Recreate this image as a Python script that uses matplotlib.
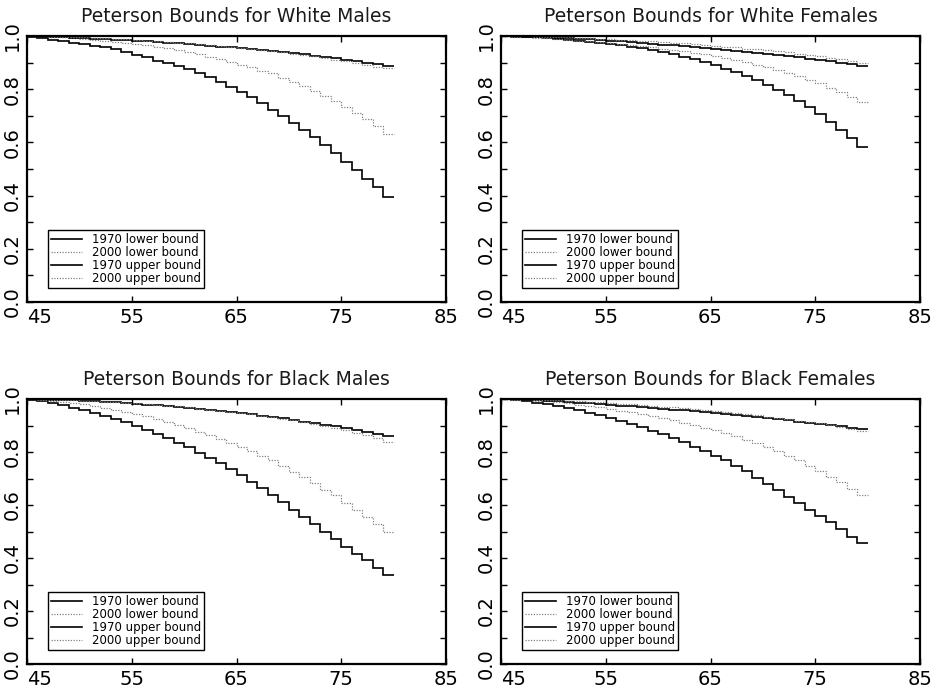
import matplotlib
matplotlib.use('Agg')
import matplotlib.pyplot as plt
from matplotlib.ticker import MultipleLocator
import numpy as np

# ages 45..80, survival bounds are step values for each one-year interval (45-46 ... 79-80)
age_edges = list(range(45, 81))

titles = ['Peterson Bounds for White Males', 'Peterson Bounds for White Females',
          'Peterson Bounds for Black Males', 'Peterson Bounds for Black Females']
labels = ['1970 lower bound', '2000 lower bound', '1970 upper bound', '2000 upper bound']

# white males
wm_low_1970 = [0.997, 0.991, 0.985, 0.980, 0.975, 0.969, 0.961, 0.957, 0.950, 0.940,
               0.930, 0.920, 0.907, 0.898, 0.887, 0.876, 0.862, 0.846, 0.827, 0.810,
               0.789, 0.769, 0.747, 0.722, 0.699, 0.674, 0.647, 0.619, 0.589, 0.559,
               0.528, 0.496, 0.464, 0.431, 0.396]
wm_low_2000 = [0.999, 0.998, 0.997, 0.995, 0.992, 0.990, 0.986, 0.982, 0.979, 0.975,
               0.970, 0.965, 0.960, 0.954, 0.947, 0.940, 0.932, 0.922, 0.912, 0.904,
               0.892, 0.882, 0.870, 0.860, 0.843, 0.828, 0.812, 0.794, 0.774, 0.757,
               0.734, 0.712, 0.687, 0.662, 0.632]
wm_up_1970 = [1.000, 0.998, 0.997, 0.995, 0.994, 0.992, 0.990, 0.988, 0.986, 0.984,
              0.982, 0.980, 0.977, 0.975, 0.972, 0.969, 0.966, 0.963, 0.960, 0.957,
              0.954, 0.950, 0.947, 0.943, 0.939, 0.935, 0.931, 0.926, 0.921, 0.916,
              0.911, 0.905, 0.899, 0.893, 0.887]
wm_up_2000 = [1.000, 0.999, 0.998, 0.997, 0.996, 0.995, 0.993, 0.991, 0.989, 0.987,
              0.985, 0.983, 0.980, 0.978, 0.975, 0.972, 0.969, 0.966, 0.962, 0.959,
              0.955, 0.951, 0.947, 0.943, 0.938, 0.933, 0.928, 0.923, 0.917, 0.911,
              0.905, 0.899, 0.892, 0.885, 0.878]

# white females
wf_low_1970 = [0.999, 0.998, 0.997, 0.995, 0.992, 0.990, 0.986, 0.982, 0.979, 0.975,
               0.970, 0.966, 0.960, 0.954, 0.947, 0.940, 0.931, 0.922, 0.912, 0.902,
               0.890, 0.877, 0.865, 0.851, 0.835, 0.816, 0.797, 0.778, 0.756, 0.732,
               0.706, 0.678, 0.647, 0.615, 0.581]
wf_low_2000 = [0.999, 0.997, 0.995, 0.993, 0.991, 0.988, 0.986, 0.983, 0.980, 0.977,
               0.973, 0.970, 0.966, 0.962, 0.958, 0.953, 0.948, 0.943, 0.937, 0.931,
               0.924, 0.917, 0.909, 0.901, 0.892, 0.882, 0.872, 0.861, 0.849, 0.836,
               0.822, 0.806, 0.790, 0.772, 0.753]
wf_up_1970 = [1.000, 0.999, 0.998, 0.996, 0.995, 0.993, 0.991, 0.989, 0.987, 0.985,
              0.982, 0.980, 0.977, 0.974, 0.971, 0.968, 0.965, 0.962, 0.959, 0.955,
              0.952, 0.948, 0.945, 0.941, 0.937, 0.933, 0.929, 0.924, 0.920, 0.915,
              0.910, 0.905, 0.899, 0.893, 0.887]
wf_up_2000 = [1.000, 1.000, 0.999, 0.998, 0.997, 0.996, 0.995, 0.994, 0.992, 0.990,
              0.988, 0.986, 0.984, 0.982, 0.980, 0.977, 0.975, 0.972, 0.969, 0.966,
              0.963, 0.960, 0.957, 0.953, 0.950, 0.946, 0.942, 0.938, 0.934, 0.929,
              0.924, 0.919, 0.914, 0.906, 0.897]

# black males
bm_low_1970 = [0.997, 0.991, 0.984, 0.976, 0.967, 0.957, 0.947, 0.936, 0.925, 0.912,
               0.899, 0.884, 0.869, 0.852, 0.833, 0.817, 0.798, 0.779, 0.758, 0.736,
               0.712, 0.688, 0.663, 0.638, 0.611, 0.583, 0.555, 0.528, 0.500, 0.472,
               0.443, 0.416, 0.391, 0.362, 0.335]
bm_low_2000 = [0.999, 0.996, 0.994, 0.990, 0.985, 0.980, 0.974, 0.967, 0.960, 0.952,
               0.943, 0.935, 0.925, 0.915, 0.902, 0.889, 0.877, 0.864, 0.848, 0.833,
               0.819, 0.804, 0.785, 0.768, 0.749, 0.726, 0.706, 0.682, 0.657, 0.636,
               0.607, 0.582, 0.553, 0.528, 0.497]
bm_up_1970 = [1.000, 0.999, 0.998, 0.996, 0.995, 0.993, 0.991, 0.989, 0.987, 0.985,
              0.982, 0.979, 0.976, 0.973, 0.970, 0.967, 0.963, 0.959, 0.955, 0.951,
              0.947, 0.942, 0.937, 0.932, 0.927, 0.921, 0.915, 0.909, 0.903, 0.897,
              0.890, 0.884, 0.877, 0.869, 0.862]
bm_up_2000 = [1.000, 0.999, 0.998, 0.997, 0.996, 0.994, 0.992, 0.990, 0.988, 0.986,
              0.984, 0.981, 0.978, 0.975, 0.972, 0.968, 0.964, 0.960, 0.956, 0.951,
              0.947, 0.942, 0.937, 0.931, 0.925, 0.919, 0.912, 0.905, 0.898, 0.890,
              0.882, 0.873, 0.864, 0.851, 0.837]

# black females
bf_low_1970 = [0.999, 0.996, 0.992, 0.986, 0.980, 0.972, 0.965, 0.957, 0.948, 0.940,
               0.930, 0.918, 0.907, 0.894, 0.879, 0.867, 0.852, 0.838, 0.820, 0.804,
               0.786, 0.769, 0.749, 0.729, 0.701, 0.678, 0.655, 0.631, 0.608, 0.583,
               0.559, 0.534, 0.509, 0.481, 0.456]
bf_low_2000 = [0.999, 0.997, 0.996, 0.994, 0.991, 0.987, 0.984, 0.979, 0.974, 0.969,
               0.962, 0.956, 0.950, 0.942, 0.935, 0.927, 0.920, 0.911, 0.902, 0.892,
               0.882, 0.871, 0.859, 0.847, 0.833, 0.818, 0.802, 0.786, 0.768, 0.749,
               0.729, 0.707, 0.685, 0.660, 0.638]
bf_up_1970 = [1.000, 0.999, 0.997, 0.995, 0.993, 0.991, 0.989, 0.986, 0.984, 0.981,
              0.978, 0.975, 0.972, 0.969, 0.966, 0.963, 0.960, 0.957, 0.953, 0.950,
              0.946, 0.942, 0.939, 0.935, 0.931, 0.927, 0.923, 0.919, 0.915, 0.911,
              0.906, 0.902, 0.897, 0.892, 0.887]
bf_up_2000 = [1.000, 1.000, 0.999, 0.998, 0.996, 0.995, 0.993, 0.991, 0.989, 0.987,
              0.985, 0.982, 0.980, 0.977, 0.974, 0.971, 0.968, 0.965, 0.961, 0.958,
              0.954, 0.950, 0.946, 0.942, 0.938, 0.933, 0.928, 0.923, 0.918, 0.913,
              0.908, 0.902, 0.895, 0.888, 0.881]

panels = [
    [wm_low_1970, wm_low_2000, wm_up_1970, wm_up_2000],
    [wf_low_1970, wf_low_2000, wf_up_1970, wf_up_2000],
    [bm_low_1970, bm_low_2000, bm_up_1970, bm_up_2000],
    [bf_low_1970, bf_low_2000, bf_up_1970, bf_up_2000],
]

solid = dict(color='black', linestyle='-', linewidth=1.2)
dotted = dict(color='#808080', linestyle=(0, (1, 1.2)), linewidth=0.9)
styles = [solid, dotted, solid, dotted]

W, H = 938, 690
fig = plt.figure(figsize=(W / 100, H / 100), dpi=100)

# axes boxes in pixels: left, top, right, bottom
boxes = [(27, 36, 446, 302), (501, 36, 920, 302),
         (27, 399, 446, 664), (501, 399, 920, 664)]

for box, title, series in zip(boxes, titles, panels):
    l, t, r, b = box
    ax = fig.add_axes([l / W, 1 - b / H, (r - l) / W, (b - t) / H])
    for vals, lab, st in zip(series, labels, styles):
        ax.stairs(vals, age_edges, baseline=None, label=lab, **st)

    ax.set_xlim(45, 85)
    ax.set_ylim(0, 1)
    ax.set_xticks([45, 55, 65, 75, 85])
    ax.yaxis.set_major_locator(MultipleLocator(0.2))
    ax.yaxis.set_minor_locator(MultipleLocator(0.1))
    ax.yaxis.set_major_formatter(plt.FormatStrFormatter('%.1f'))
    ax.tick_params(which='both', direction='in', top=True, right=True,
                   length=4, width=1, labelsize=14, pad=4)
    for lbl in ax.get_yticklabels():
        lbl.set_rotation(90)
        lbl.set_va('center')
    ax.get_xticklabels()[0].set_ha('left')
    for s in ax.spines.values():
        s.set_linewidth(1.6)

    ax.set_title(title, fontsize=13.5, pad=10, color='#1a1a1a')

    leg = ax.legend(loc='lower left', bbox_to_anchor=(0.05, 0.052), borderaxespad=0,
                    fontsize=8.5, frameon=True, fancybox=False, framealpha=1,
                    edgecolor='black', labelspacing=0.0, handlelength=2.6,
                    handletextpad=0.9, borderpad=0.25)
    leg.get_frame().set_linewidth(1.0)

fig.savefig('out.png', dpi=100)
